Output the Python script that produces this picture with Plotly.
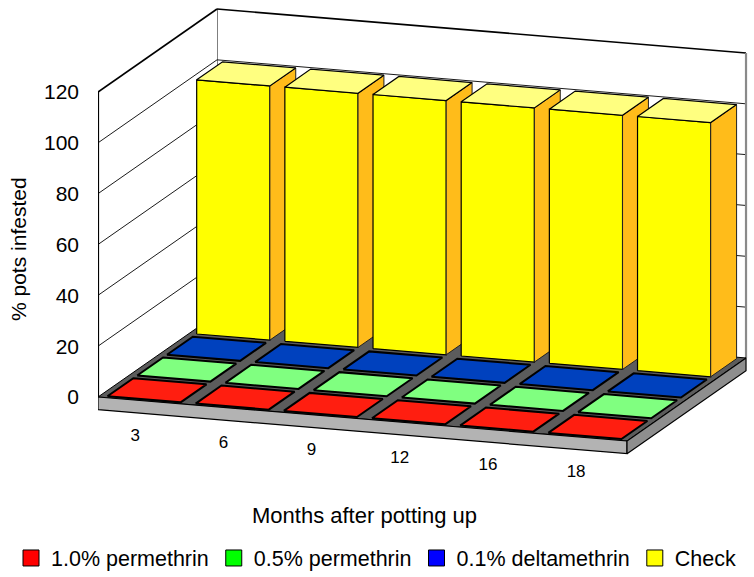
import plotly.graph_objects as go

# ---------------- data ----------------
categories = ["3", "6", "9", "12", "16", "18"]
series_names = ["1.0% permethrin", "0.5% permethrin", "0.1% deltamethrin", "Check"]
permethrin_10 = [0, 0, 0, 0, 0, 0]
permethrin_05 = [0, 0, 0, 0, 0, 0]
deltamethrin_01 = [0, 0, 0, 0, 0, 0]
check = [100, 100, 100, 100, 100, 100]
y_ticks = [0, 20, 40, 60, 80, 100, 120]

series_values = [permethrin_10, permethrin_05, deltamethrin_01, check]
legend_colors = ["#FF0000", "#00FF00", "#0000FF", "#FFFF00"]
front_colors = ["#FF1E10", "#80FF80", "#0041BE", "#FFFF00"]
top_colors = ["#FF1E10", "#80FF80", "#0041BE", "#FFFF80"]
side_colors = ["#B01008", "#40B040", "#002A80", "#FFBC1A"]

# ---------------- oblique projection onto the 2D axes ----------------
AX = (88.17, 7.33)     # screen px per category unit
CZ = (29.75, -20.75)   # screen px per series row (depth)
PV = 2.5417            # screen px per value unit
Y_MAX = 120
N_CAT = len(categories)
N_ROW = len(series_names)


def proj(a, c, v):
    u = a + c * CZ[0] / AX[0]
    w = v - (a * AX[1] + c * CZ[1]) / PV
    return u, w


traces = []


def poly(pts, fill, lc="black", lw=1.0):
    xs, ys = [], []
    for p in pts + [pts[0]]:
        u, w = proj(*p)
        xs.append(u)
        ys.append(w)
    traces.append(go.Scatter(x=xs, y=ys, mode="lines", fill="toself", fillcolor=fill,
                             line=dict(color=lc, width=lw), hoverinfo="skip", showlegend=False))


def line(pts, lc="black", lw=1.0):
    xs, ys = [], []
    for p in pts:
        u, w = proj(*p)
        xs.append(u)
        ys.append(w)
    traces.append(go.Scatter(x=xs, y=ys, mode="lines", line=dict(color=lc, width=lw),
                             hoverinfo="skip", showlegend=False))


# back wall
poly([(0, N_ROW, 0), (N_CAT, N_ROW, 0), (N_CAT, N_ROW, Y_MAX), (0, N_ROW, Y_MAX)], "white", "rgba(0,0,0,0)", 0)
for t in y_ticks[1:-1]:
    line([(0, N_ROW, t), (N_CAT, N_ROW, t)], "black", 0.9)
line([(0, N_ROW, Y_MAX), (N_CAT, N_ROW, Y_MAX)], "black", 1.6)
line([(0, N_ROW, 0), (0, N_ROW, Y_MAX)], "black", 1.0)
line([(N_CAT, N_ROW, 0), (N_CAT, N_ROW, Y_MAX)], "#8a8a8a", 2.2)

# left wall
poly([(0, 0, 0), (0, N_ROW, 0), (0, N_ROW, Y_MAX), (0, 0, Y_MAX)], "white", "rgba(0,0,0,0)", 0)
for t in y_ticks[1:-1]:
    line([(0, 0, t), (0, N_ROW, t)], "black", 0.9)
line([(0, 0, Y_MAX), (0, N_ROW, Y_MAX)], "black", 1.6)

# base slab
SLAB = -5
poly([(0, 0, 0), (N_CAT, 0, 0), (N_CAT, N_ROW, 0), (0, N_ROW, 0)], "#5c5c5c", "black", 1.0)
poly([(0, 0, SLAB), (N_CAT, 0, SLAB), (N_CAT, 0, 0), (0, 0, 0)], "#b3b3b3", "black", 1.2)
poly([(N_CAT, 0, SLAB), (N_CAT, N_ROW, SLAB), (N_CAT, N_ROW, 0), (N_CAT, 0, 0)], "#8e8e8e", "black", 1.2)

# left wall front edge (value axis line)
line([(0, 0, 0), (0, 0, Y_MAX)], "black", 2.2)

# bars
BW = 0.83
BD = 0.87
for r in range(N_ROW - 1, -1, -1):
    vals = series_values[r]
    for i in range(N_CAT):
        v = vals[i]
        a0 = i + (1 - BW) / 2
        a1 = a0 + BW
        c0 = r + (1 - BD) / 2
        c1 = c0 + BD
        if v > 0:
            poly([(a0, c0, 0), (a1, c0, 0), (a1, c0, v), (a0, c0, v)], front_colors[r], "black", 1.2)
            poly([(a1, c0, 0), (a1, c1, 0), (a1, c1, v), (a1, c0, v)], side_colors[r], "#222222", 1.0)
        poly([(a0, c0, v), (a1, c0, v), (a1, c1, v), (a0, c1, v)], top_colors[r], "black", 2.0 if v == 0 else 1.2)

# category labels
lx, ly = [], []
for i in range(N_CAT):
    u, w = proj(i + 0.5, -0.23, -12.2)
    lx.append(u)
    ly.append(w)
traces.append(go.Scatter(x=lx, y=ly, mode="text", text=categories,
                         textfont=dict(size=17, color="black", family="Liberation Sans, Arial"),
                         hoverinfo="skip", showlegend=False))

# legend entries
for name, col in zip(series_names, legend_colors):
    traces.append(go.Scatter(x=[None], y=[None], mode="markers", name=name,
                             marker=dict(symbol="square", size=18, color=col,
                                         line=dict(color="black", width=1))))

fig = go.Figure(traces)

W, H = 754, 577
ML, PB = 98, 480
PW = W - ML
y_top = 397 / PV
y_bot = (397 - PB) / PV
fig.update_layout(
    width=W, height=H,
    margin=dict(l=ML, r=0, t=0, b=H - PB, autoexpand=False),
    paper_bgcolor="white", plot_bgcolor="white",
    font=dict(family="Liberation Sans, Arial", color="black", size=21),
    xaxis=dict(range=[0, PW / AX[0]], visible=False, fixedrange=True, automargin=False),
    yaxis=dict(range=[y_bot, y_top], tickvals=y_ticks, ticktext=[str(t) for t in y_ticks],
               showgrid=False, zeroline=False, showline=False, ticks="",
               ticklabelstandoff=18, tickfont=dict(size=21), fixedrange=True, automargin=False),
    showlegend=True,
    legend=dict(orientation="h", x=(11 - ML) / PW, xanchor="left",
                y=(PB - 558) / PB, yanchor="middle", font=dict(size=21.5),
                bgcolor="rgba(0,0,0,0)", itemclick=False, itemdoubleclick=False),
    annotations=[
        dict(text="% pots infested", xref="paper", yref="paper",
             x=(18 - ML) / PW, y=(PB - 249) / PB, textangle=-90,
             showarrow=False, font=dict(size=21), xanchor="center", yanchor="middle"),
        dict(text="Months after potting up", xref="paper", yref="paper",
             x=(364 - ML) / PW, y=(PB - 515) / PB,
             showarrow=False, font=dict(size=22), xanchor="center", yanchor="middle"),
    ],
)

fig.write_html("out.html", config={"displayModeBar": False},
               post_script="document.body.style.margin='0px';")
